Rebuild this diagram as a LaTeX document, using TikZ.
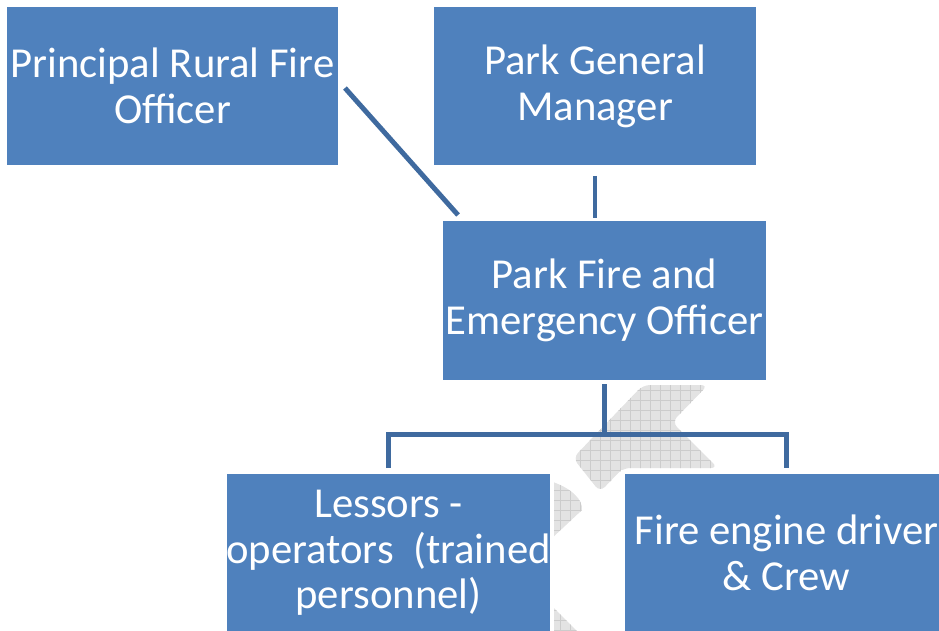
\documentclass[tikz,border=0pt]{standalone}
\usepackage{fontspec}
\setmainfont{Carlito}
\usetikzlibrary{calc,backgrounds}
\definecolor{boxblue}{HTML}{4F81BD}
\definecolor{linkblue}{HTML}{3F6A9F}
\begin{document}
\begin{tikzpicture}
  [
  x=0.02cm,y=-0.02cm,
  role/.style={rectangle,fill=boxblue,draw=white,line width=2.2pt,outer sep=0pt,
    inner sep=0pt,minimum width=6.54cm,minimum height=3.24cm,text=white,
    align=center,font=\fontsize{24.3}{26}\selectfont},
  link/.style={draw=linkblue,line width=2.8pt},
  logo/.style={fill=gray!22}
  ]
  \useasboundingbox (0,0) rectangle (939,630);
  \clip (0,0) rectangle (939,630);

  \node (prfo) at (172.5,86) [role,minimum width=6.7cm] {Principal Rural Fire\\Officer};
  \node (pgm) at (595,86) [role,minimum width=6.52cm] {Park General\\Manager};
  \node (pfeo) at (604.5,300.5) [role] {Park Fire and\\Emergency Officer};
  \node (less) at (388.5,553) [role] {Lessors -\\operators~~(trained\\personnel)};
  \node (crew) at (786.5,553) [role] {Fire engine driver\\\& Crew};
  \coordinate (bus) at ($(pfeo.south)+(0,53)$);

  \begin{scope}[on background layer]
    % faded logo behind the chart
    \begin{scope}
      \clip [rounded corners=4pt] (643,385) -- (708,385) -- (672,422) -- (718,468)
        -- (623,468) -- (600,492) -- (573,458) -- cycle;
      \path [logo] (540,380) rectangle (730,500);
      \draw [gray!40,thin,step=0.2cm] (540,380) grid (730,500);
    \end{scope}
    \begin{scope}
      \clip (550,481) .. controls (572,488) and (583,500) .. (582,510)
        -- (550,540) -- cycle
        (550,604) -- (578,632) -- (550,632) -- cycle;
      \path [logo] (540,470) rectangle (600,632);
      \draw [gray!40,thin,step=0.2cm] (540,470) grid (600,632);
    \end{scope}

    \draw [link] ($(prfo.east)+(5,2)$) -- ($(pfeo.north west)+(17,-4.5)$);
    \draw [link] ($(pgm.south)+(0,9)$) -- (pgm.south |- pfeo.north);
    \draw [link] ($(pfeo.south)+(0,3)$) -- (bus);
    \draw [link] ($(less.north)+(0,-4)$) |- (bus) -| ($(crew.north)+(0,-4)$);
  \end{scope}
\end{tikzpicture}
\end{document}
